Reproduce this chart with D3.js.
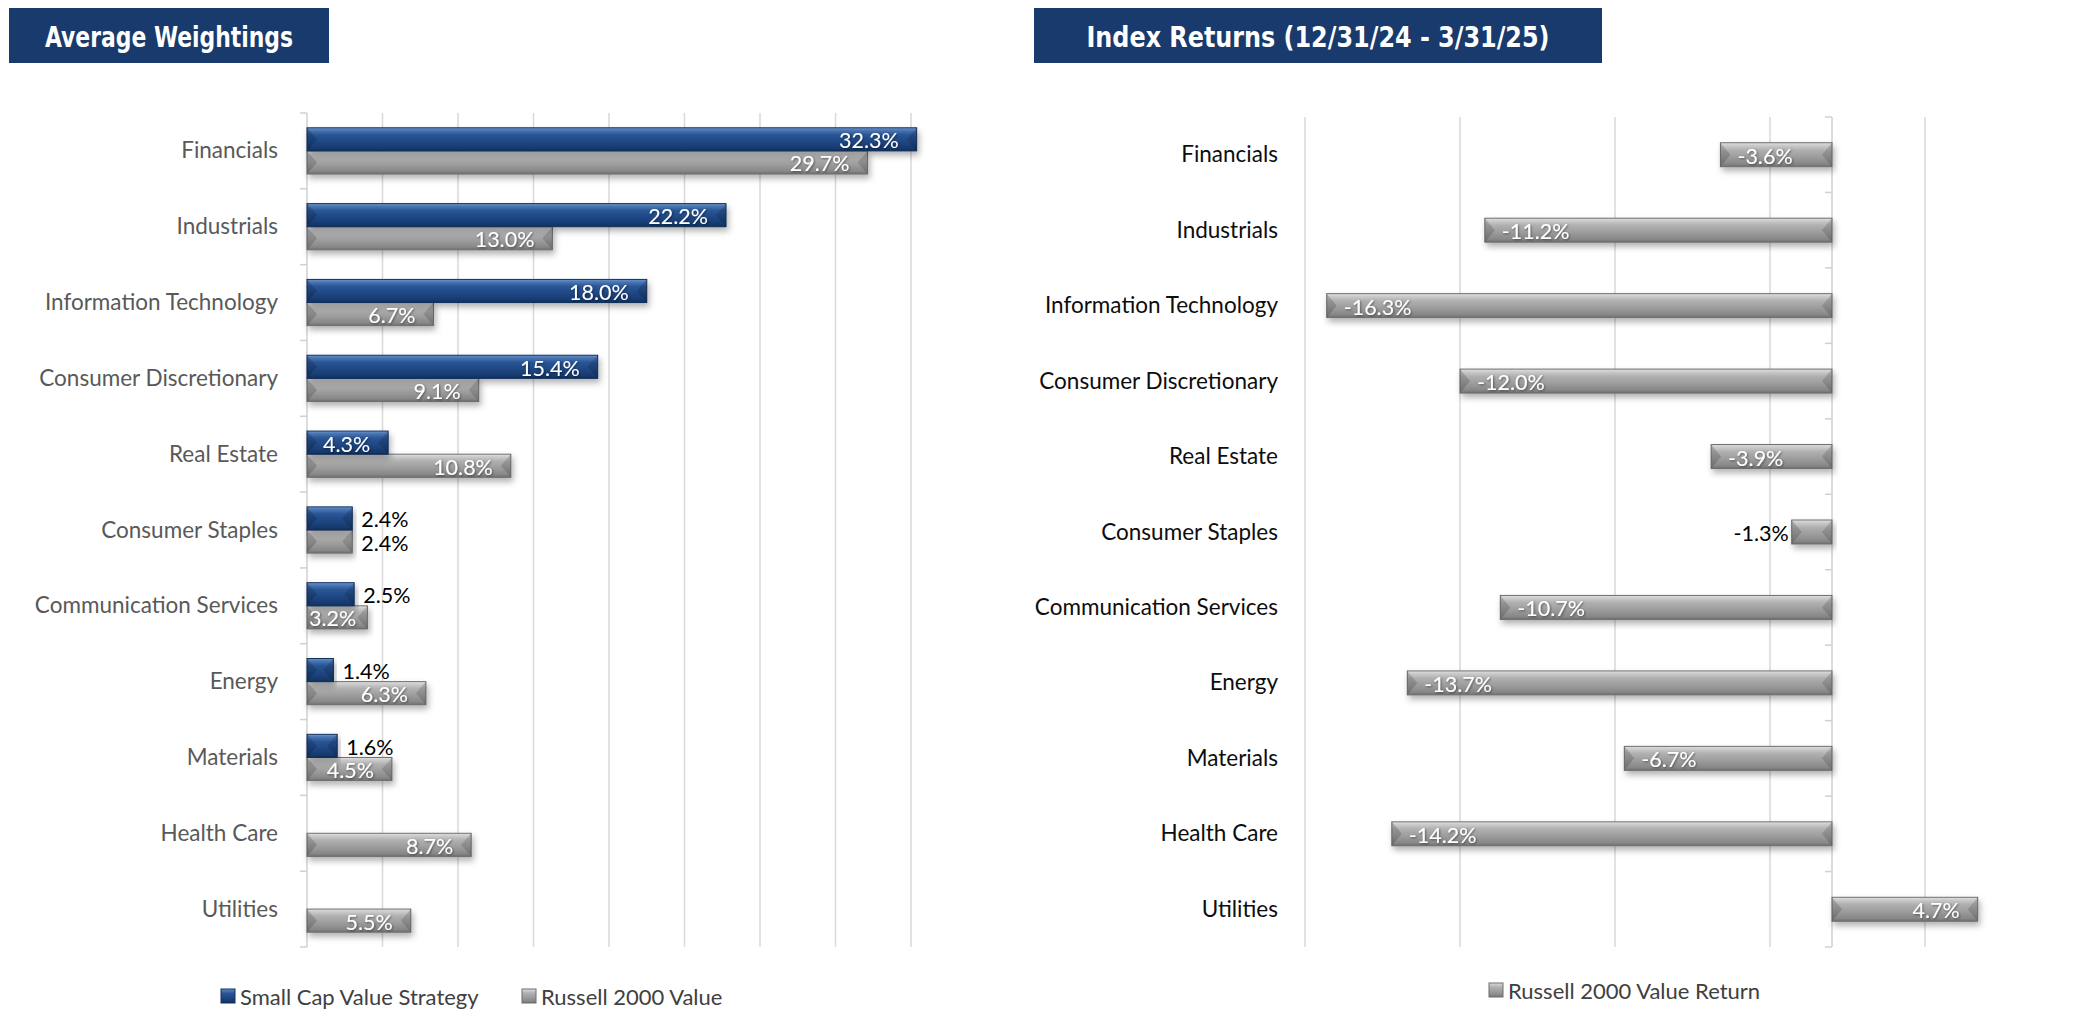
<!DOCTYPE html>
<html>
<head>
<meta charset="utf-8">
<script src="https://cdn.jsdelivr.net/npm/d3@7/dist/d3.min.js"></script>
<style>
    html, body { margin: 0; padding: 0; background: #fff; }
    svg { display: block; }
</style>
</head>
<body>
<svg id="svg" width="2088" height="1012"></svg>
<script>
const categories = [
    "Financials", "Industrials", "Information Technology", "Consumer Discretionary",
    "Real Estate", "Consumer Staples", "Communication Services", "Energy",
    "Materials", "Health Care", "Utilities"
];
// Average weightings (%)
const strategyWeights = [32.3, 22.2, 18.0, 15.4, 4.3, 2.4, 2.5, 1.4, 1.6, null, null];
const benchmarkWeights = [29.7, 13.0, 6.7, 9.1, 10.8, 2.4, 3.2, 6.3, 4.5, 8.7, 5.5];
// Index returns 12/31/24 - 3/31/25 (%)
const indexReturns = [-3.6, -11.2, -16.3, -12.0, -3.9, -1.3, -10.7, -13.7, -6.7, -14.2, 4.7];

const weightGrid = [4, 8, 12, 16, 20, 24, 28, 32];
const returnGrid = [-17, -12, -7, -2, 3];

const titles = ["Average Weightings", "Index Returns (12/31/24 - 3/31/25)"];
const seriesNames = ["Small Cap Value Strategy", "Russell 2000 Value", "Russell 2000 Value Return"];

const svg = d3.select("#svg");
const defs = svg.append("defs");

function addGradient(id, stops) {
    defs.append("linearGradient")
        .attr("id", id)
        .attr("x1", 0).attr("y1", 0).attr("x2", 0).attr("y2", 1)
        .selectAll("stop")
        .data(stops)
        .join("stop")
        .attr("offset", d => d[0])
        .attr("stop-color", d => d[1]);
}

addGradient("blueBar", [[0, "#7199cf"], [0.1, "#4c78b7"], [0.3, "#2a5695"], [0.6, "#1f4784"], [0.88, "#173a6d"], [1, "#0f2d58"]]);
addGradient("grayBar", [[0, "#e2e2e2"], [0.1, "#cdcdcd"], [0.3, "#b0b0b0"], [0.6, "#9c9c9c"], [0.88, "#878787"], [1, "#6e6e6e"]]);

defs.append("filter")
    .attr("id", "shadow")
    .attr("x", "-5%").attr("y", "-40%")
    .attr("width", "115%").attr("height", "200%")
    .append("feDropShadow")
    .attr("dx", 2).attr("dy", 4)
    .attr("stdDeviation", 3)
    .attr("flood-color", "#000")
    .attr("flood-opacity", 0.3);

defs.append("filter")
    .attr("id", "textShadow")
    .attr("x", "-10%").attr("y", "-20%")
    .attr("width", "130%").attr("height", "150%")
    .append("feDropShadow")
    .attr("dx", 1).attr("dy", 1)
    .attr("stdDeviation", 0.8)
    .attr("flood-color", "#000")
    .attr("flood-opacity", 0.45);

// title banners
const banners = [
    {text: titles[0], x: 9, w: 320, tw: 248},
    {text: titles[1], x: 1034, w: 568, tw: 463}
];
const banner = svg.selectAll("g.banner").data(banners).join("g").attr("class", "banner");
banner.append("rect")
    .attr("x", d => d.x).attr("y", 8)
    .attr("width", d => d.w).attr("height", 55)
    .attr("fill", "#183a6c");
banner.append("text")
    .attr("x", d => d.x + d.w / 2).attr("y", 37)
    .attr("text-anchor", "middle")
    .attr("dominant-baseline", "central")
    .attr("fill", "#fff")
    .attr("font-family", "'Liberation Sans Narrow', 'DejaVu Sans Condensed', sans-serif")
    .attr("font-weight", 700)
    .attr("font-size", 29)
    .attr("textLength", d => d.tw)
    .attr("lengthAdjust", "spacingAndGlyphs")
    .text(d => d.text);

function drawBars(g, rows, x, fill, edge) {
    const bar = g.selectAll(null).data(rows).join("g");
    const left = d => Math.min(x(0), x(d.value));
    const right = d => Math.max(x(0), x(d.value));

    bar.append("rect")
        .attr("x", left)
        .attr("y", d => d.y)
        .attr("width", d => right(d) - left(d))
        .attr("height", d => d.h)
        .attr("fill", `url(#${fill})`)
        .attr("stroke", edge)
        .attr("stroke-width", 1)
        .attr("filter", "url(#shadow)");

    // bevelled ends
    bar.append("path")
        .attr("d", d => {
            const a = left(d), c = Math.min(10, (right(d) - a) / 2);
            return `M${a},${d.y}L${a + c},${d.y + d.h / 2}L${a},${d.y + d.h}Z`;
        })
        .attr("fill", "#000").attr("opacity", 0.16);
    bar.append("path")
        .attr("d", d => {
            const b = right(d), c = Math.min(10, (b - left(d)) / 2);
            return `M${b},${d.y}L${b - c},${d.y + d.h / 2}L${b},${d.y + d.h}Z`;
        })
        .attr("fill", "#000").attr("opacity", 0.14);
}

function drawLabels(g, rows, x, fontSize) {
    const inside = d => Math.abs(d.value) >= 3;
    g.selectAll(null)
        .data(rows)
        .join("text")
        .attr("x", d => {
            if (d.value >= 0) return inside(d) ? x(d.value) - 18 : x(d.value) + 9;
            return inside(d) ? x(d.value) + 17 : x(d.value) - 3;
        })
        .attr("y", d => d.y + d.h / 2 + 1)
        .attr("text-anchor", d => (d.value >= 0) === inside(d) ? "end" : "start")
        .attr("dominant-baseline", "central")
        .attr("fill", d => inside(d) ? "#fff" : "#000")
        .attr("filter", d => inside(d) ? "url(#textShadow)" : null)
        .attr("font-family", "Lato, 'Open Sans', sans-serif")
        .attr("font-size", fontSize)
        .text(d => `${d.value.toFixed(1)}%`)
        .each(function(d) {
            // keep short inside labels from spilling past the axis
            if (inside(d) && d.value >= 0) {
                const w = this.getComputedTextLength();
                if (x(d.value) - 18 - w < x(0) + 2) {
                    d3.select(this).attr("x", x(0) + 2).attr("text-anchor", "start");
                }
            }
        });
}

function drawFrame(g, x, y, grid, top, bottom, labelX, labelColor) {
    g.append("g")
        .selectAll("line")
        .data(grid)
        .join("line")
        .attr("x1", d => x(d)).attr("x2", d => x(d))
        .attr("y1", top).attr("y2", bottom)
        .attr("stroke", "#d9d9d9")
        .attr("stroke-width", 1.5);

    g.append("line")
        .attr("x1", x(0)).attr("x2", x(0))
        .attr("y1", top).attr("y2", bottom)
        .attr("stroke", "#d0d0d0")
        .attr("stroke-width", 1.5);

    const bounds = categories.map(c => y(c)).concat([bottom]);
    g.append("g")
        .selectAll("line")
        .data(bounds)
        .join("line")
        .attr("x1", x(0) - 7).attr("x2", x(0))
        .attr("y1", d => d).attr("y2", d => d)
        .attr("stroke", "#d0d0d0")
        .attr("stroke-width", 1.5);

    g.append("g")
        .selectAll("text")
        .data(categories)
        .join("text")
        .attr("x", labelX)
        .attr("y", c => y(c) + y.bandwidth() / 2 - 1)
        .attr("text-anchor", "end")
        .attr("dominant-baseline", "central")
        .attr("fill", labelColor)
        .attr("font-family", "Lato, 'Open Sans', sans-serif")
        .attr("font-size", 22.5)
        .text(c => c);
}

function drawLegend(g, items, y) {
    const item = g.selectAll(null).data(items).join("g");
    item.append("rect")
        .attr("x", d => d.x).attr("y", y - 7)
        .attr("width", 14).attr("height", 14)
        .attr("fill", d => `url(#${d.fill})`)
        .attr("stroke", d => d.edge);
    item.append("text")
        .attr("x", d => d.x + 19).attr("y", y)
        .attr("dominant-baseline", "central")
        .attr("fill", "#404040")
        .attr("font-family", "Lato, 'Open Sans', sans-serif")
        .attr("font-size", 22)
        .text(d => d.name);
}

// ---- left panel: average weightings ----
(function() {
    const top = 113, bottom = 947;
    const x = d3.scaleLinear([0, 32], [307, 911]);
    const y = d3.scaleBand(categories, [top, bottom]);
    const sub = d3.scaleBand(["strategy", "benchmark"], [y.bandwidth() * 0.195, y.bandwidth() * 0.805]);
    const g = svg.append("g");

    drawFrame(g, x, y, weightGrid, top, bottom, 278, "#595959");

    const strategy = categories
        .map((c, i) => ({cat: c, value: strategyWeights[i]}))
        .filter(d => d.value != null)
        .map(d => ({...d, y: y(d.cat) + sub("strategy"), h: sub.bandwidth()}));
    const benchmark = categories
        .map((c, i) => ({cat: c, value: benchmarkWeights[i], y: y(c) + sub("benchmark"), h: sub.bandwidth()}));

    drawBars(g.append("g"), benchmark, x, "grayBar", "#6e6e6e");
    drawBars(g.append("g"), strategy, x, "blueBar", "#12315e");
    drawLabels(g.append("g"), strategy, x, 21.5);
    drawLabels(g.append("g"), benchmark, x, 21.5);

    drawLegend(g.append("g"), [
        {name: seriesNames[0], x: 221, fill: "blueBar", edge: "#12315e"},
        {name: seriesNames[1], x: 522, fill: "grayBar", edge: "#6e6e6e"}
    ], 996);
})();

// ---- right panel: index returns ----
(function() {
    const top = 117, bottom = 947;
    const x = d3.scaleLinear([-17, 8], [1305, 2080]);
    const y = d3.scaleBand(categories, [top, bottom]);
    const h = y.bandwidth() * 0.318;
    const g = svg.append("g");

    drawFrame(g, x, y, returnGrid, top, bottom, 1278, "#0d0d0d");

    const rows = categories.map((c, i) => ({
        cat: c, value: indexReturns[i], y: y(c) + (y.bandwidth() - h) / 2, h
    }));
    drawBars(g.append("g"), rows, x, "grayBar", "#6e6e6e");
    drawLabels(g.append("g"), rows, x, 21.5);

    drawLegend(g.append("g"), [
        {name: seriesNames[2], x: 1489, fill: "grayBar", edge: "#6e6e6e"}
    ], 990);
})();
</script>
</body>
</html>
